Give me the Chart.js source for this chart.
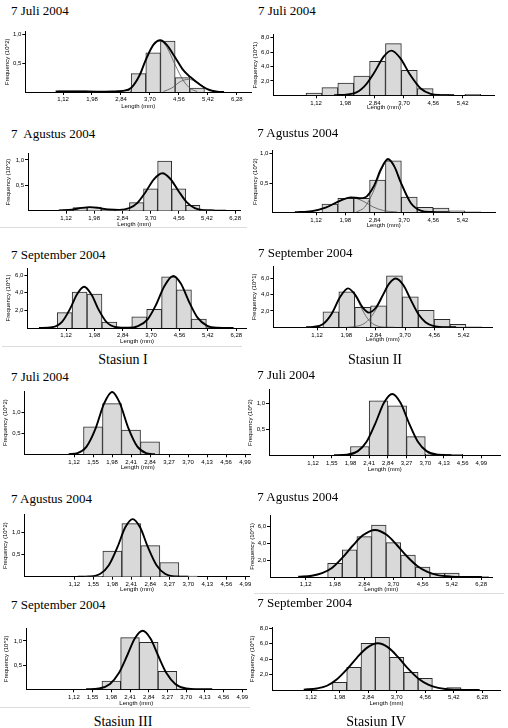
<!DOCTYPE html>
<html><head><meta charset="utf-8">
<script src="https://cdn.jsdelivr.net/npm/chart.js@4.4.1/dist/chart.umd.min.js"></script>
<style>
html,body{margin:0;padding:0;background:#fff;}
#fig{position:relative;width:508px;height:728px;overflow:hidden;background:#fff;}
.t{position:absolute;font-family:"Liberation Serif","Times New Roman",serif;font-size:13px;line-height:13px;color:#000;white-space:pre;}
.s{position:absolute;font-family:"Liberation Serif","Times New Roman",serif;font-size:14px;line-height:14px;color:#000;white-space:pre;transform:translateX(-50%);}
.sep{position:absolute;height:1px;background:#dcdcdc;}
canvas{position:absolute;}
</style></head><body><div id="fig"></div>
<script>
// ---------- tick labels ----------
const xTicksWide = [1.12, 1.98, 2.84, 3.70, 4.56, 5.42, 6.28];
const xTicksShort = [1.12, 1.98, 2.84, 3.70, 4.56, 5.42];
const xTicksNarrow = [1.12, 1.55, 1.98, 2.41, 2.84, 3.27, 3.70, 4.13, 4.56, 4.99];
const yTicksUnit = [0.5, 1.0];
const yTicks8 = [2, 4, 6, 8];
const yTicks6 = [2, 4, 6];
const xTitle = 'Length (mm)';
const yTitle2 = 'Frequency (10^2)';
const yTitle1 = 'Frequency (10^1)';
const panelTitles = ['7 Juli 2004', '7 Juli 2004', '7  Agustus 2004', '7 Agustus 2004',
  '7 September 2004', '7 September 2004', '7 Juli 2004', '7 Juli 2004',
  '7 Agustus 2004', '7 Agustus 2004', '7 September 2004', '7 September 2004'];
const stationLabels = ['Stasiun I', 'Stasiun II', 'Stasiun III', 'Stasiun IV'];

// ---------- Stasiun I, Juli ----------
const s1JulLen  = [1.185, 1.62, 2.055, 2.49, 2.925, 3.36, 3.795, 4.23, 4.665, 5.10];
const s1JulFreq = [0.02, 0.02, 0.01, 0.01, 0.02, 0.32, 0.68, 0.885, 0.25, 0.07];
const s1JulFitX = [0.9, 1.5, 2.2, 2.6, 2.9, 3.14, 3.4, 3.57, 3.8, 4.01, 4.2, 4.45, 4.69, 4.9, 5.18, 5.4, 5.7, 5.9];
const s1JulFitY = [0.01, 0.01, 0.005, 0.01, 0.02, 0.07, 0.3, 0.55, 0.82, 0.9, 0.82, 0.6, 0.38, 0.26, 0.13, 0.05, 0.005, 0];
const s1JulC1X = [2.9, 3.14, 3.4, 3.57, 3.8, 4.01, 4.2, 4.45, 4.69, 4.9, 5.1];
const s1JulC1Y = [0.02, 0.07, 0.3, 0.55, 0.81, 0.89, 0.78, 0.47, 0.2, 0.06, 0.01];
const s1JulC2X = [4.1, 4.35, 4.6, 4.85, 5.1, 5.35, 5.6];
const s1JulC2Y = [0.01, 0.07, 0.18, 0.22, 0.17, 0.07, 0.01];

// ---------- Stasiun II, Juli ----------
const s2JulLen  = [1.06, 1.526, 1.992, 2.458, 2.924, 3.39, 3.856, 4.322, 4.788, 5.254, 5.72];
const s2JulFreq = [0.32, 1.06, 1.71, 2.68, 4.72, 7.18, 3.47, 0.93, 0.15, 0, 0.15];
const s2JulFitX = [1.65, 2.23, 2.53, 2.82, 3.11, 3.33, 3.6, 3.86, 4.19, 4.48, 4.78, 5.17];
const s2JulFitY = [0, 0.27, 1.2, 3.1, 5.4, 6.2, 5.1, 3.0, 0.95, 0.2, 0.03, 0];

// ---------- Stasiun I, Agustus ----------
const s1AugLen  = [1.12, 1.55, 1.98, 2.41, 2.84, 3.27, 3.70, 4.13, 4.56, 4.99, 5.42];
const s1AugFreq = [0.01, 0.06, 0.07, 0.03, 0.01, 0.16, 0.43, 0.98, 0.43, 0.105, 0.02];
const s1AugFitX = [0.9, 1.3, 1.6, 1.85, 2.1, 2.4, 2.75, 3.05, 3.3, 3.55, 3.8, 4.06, 4.3, 4.55, 4.8, 5.05, 5.3, 5.6, 6.0];
const s1AugFitY = [0.005, 0.02, 0.055, 0.07, 0.056, 0.025, 0.016, 0.05, 0.155, 0.37, 0.62, 0.74, 0.63, 0.39, 0.17, 0.05, 0.012, 0.002, 0];

// ---------- Stasiun II, Agustus ----------
const s2AugLen  = [1.526, 1.992, 2.458, 2.924, 3.39, 3.856, 4.322, 4.788, 5.254, 5.72];
const s2AugFreq = [0.14, 0.24, 0.24, 0.55, 0.88, 0.26, 0.085, 0.07, 0.025, 0.01];
const s2AugFitX = [0.5, 1.0, 1.4, 1.8, 2.14, 2.4, 2.55, 2.82, 3.02, 3.23, 3.42, 3.6, 3.9, 4.19, 4.5, 5.0];
const s2AugFitY = [0, 0.02, 0.08, 0.19, 0.255, 0.24, 0.25, 0.45, 0.73, 0.91, 0.78, 0.52, 0.16, 0.03, 0.005, 0];
const s2AugC1X = [0.6, 1.0, 1.4, 1.8, 2.14, 2.5, 2.8, 3.1, 3.5];
const s2AugC1Y = [0, 0.02, 0.08, 0.19, 0.255, 0.19, 0.09, 0.03, 0.005];
const s2AugC2X = [2.3, 2.55, 2.82, 3.02, 3.23, 3.42, 3.6, 3.9, 4.19, 4.5];
const s2AugC2Y = [0.005, 0.09, 0.38, 0.7, 0.89, 0.77, 0.51, 0.15, 0.03, 0];

// ---------- Stasiun I, September ----------
const s1SepLen  = [1.08, 1.532, 1.984, 2.436, 2.888, 3.34, 3.792, 4.244, 4.696, 5.148, 5.6];
const s1SepFreq = [1.74, 4.08, 3.85, 0.68, 0, 1.28, 2.11, 5.81, 4.34, 1.02, 0.05];
const s1SepFitX = [0.3, 0.7, 1.0, 1.25, 1.45, 1.67, 1.9, 2.1, 2.35, 2.65, 3.0, 3.3, 3.6, 3.85, 4.1, 4.37, 4.6, 4.85, 5.1, 5.4, 5.7, 6.2];
const s1SepFitY = [0, 0.09, 0.7, 2.22, 3.81, 4.68, 3.74, 2.14, 0.67, 0.08, 0.02, 0.2, 1.01, 2.64, 4.74, 5.89, 5.03, 2.97, 1.21, 0.25, 0.03, 0];

// ---------- Stasiun II, September ----------
const s2SepLen  = [1.526, 1.992, 2.458, 2.924, 3.39, 3.856, 4.322, 4.788, 5.254, 5.72];
const s2SepFreq = [1.9, 4.33, 2.43, 2.63, 6.28, 3.72, 2.06, 0.97, 0.36, 0.05];
const s2SepFitX = [0.8, 1.0, 1.3, 1.55, 1.8, 2.03, 2.25, 2.45, 2.64, 2.85, 3.05, 3.23, 3.43, 3.65, 3.87, 4.1, 4.3, 4.55, 4.8, 5.2];
const s2SepFitY = [0, 0.04, 0.41, 1.65, 3.72, 4.75, 3.9, 2.45, 1.79, 2.41, 3.92, 5.29, 5.95, 5.15, 3.34, 1.56, 0.63, 0.14, 0.02, 0];
const s2SepC1X = [0.8, 1.0, 1.3, 1.55, 1.8, 2.03, 2.25, 2.45, 2.64, 2.85, 3.1, 3.4];
const s2SepC1Y = [0, 0.04, 0.41, 1.65, 3.72, 4.74, 3.8, 2.11, 0.86, 0.22, 0.02, 0];
const s2SepC2X = [2.0, 2.2, 2.45, 2.64, 2.85, 3.05, 3.23, 3.43, 3.65, 3.87, 4.1, 4.3, 4.55, 4.8, 5.1];
const s2SepC2Y = [0, 0.07, 0.34, 0.93, 2.19, 3.87, 5.28, 5.95, 5.15, 3.34, 1.56, 0.63, 0.14, 0.02, 0];

// ---------- Stasiun III, Juli ----------
const s3JulLen  = [1.55, 1.98, 2.41, 2.84];
const s3JulFreq = [0.66, 1.22, 0.58, 0.30];
const s3JulFitX = [1.0, 1.2, 1.4, 1.6, 1.8, 1.98, 2.15, 2.35, 2.55, 2.75, 2.95];
const s3JulFitY = [0.003, 0.03, 0.18, 0.6, 1.22, 1.5, 1.25, 0.63, 0.19, 0.03, 0];

// ---------- Stasiun IV, Juli ----------
const s4JulLen  = [2.195, 2.625, 3.055, 3.485, 3.915, 4.345];
const s4JulFreq = [0.17, 1.05, 0.95, 0.36, 0.025, 0.02];
const s4JulFitX = [1.6, 1.9, 2.15, 2.35, 2.55, 2.75, 2.94, 3.13, 3.33, 3.53, 3.73, 3.98, 4.3];
const s4JulFitY = [0, 0.01, 0.08, 0.26, 0.61, 1.01, 1.18, 1.01, 0.61, 0.26, 0.08, 0.01, 0];

// ---------- Stasiun III, Agustus ----------
const s3AugLen  = [1.55, 1.98, 2.41, 2.84, 3.27, 3.70];
const s3AugFreq = [0.01, 0.58, 1.2, 0.70, 0.32, 0.015];
const s3AugFitX = [1.2, 1.45, 1.7, 1.9, 2.1, 2.27, 2.44, 2.61, 2.78, 2.98, 3.18, 3.43, 3.7];
const s3AugFitY = [0, 0.006, 0.06, 0.26, 0.68, 1.11, 1.3, 1.11, 0.68, 0.26, 0.06, 0.006, 0];

// ---------- Stasiun IV, Agustus ----------
const s4AugLen  = [1.98, 2.41, 2.84, 3.27, 3.70, 4.13, 4.56, 4.99, 5.42, 5.85, 6.28];
const s4AugFreq = [1.63, 3.25, 4.8, 6.19, 4.09, 2.62, 1.19, 0.48, 0.48, 0, 0.05];
const s4AugFitX = [0.9, 1.3, 1.6, 1.9, 2.2, 2.5, 2.8, 3.16, 3.5, 3.8, 4.1, 4.4, 4.7, 5.0, 5.4, 5.8, 6.3];
const s4AugFitY = [0.03, 0.15, 0.45, 1.1, 2.3, 3.72, 4.96, 5.6, 5.02, 3.81, 2.44, 1.32, 0.61, 0.23, 0.05, 0.01, 0];

// ---------- Stasiun III, September ----------
const s3SepLen  = [1.98, 2.41, 2.84, 3.27, 3.70];
const s3SepFreq = [0.17, 1.07, 0.97, 0.37, 0.01];
const s3SepFitX = [1.4, 1.7, 1.95, 2.15, 2.35, 2.52, 2.70, 2.88, 3.05, 3.25, 3.45, 3.7, 4.0, 4.3];
const s3SepFitY = [0.001, 0.016, 0.11, 0.33, 0.71, 1.05, 1.21, 1.05, 0.71, 0.33, 0.11, 0.016, 0.001, 0];

// ---------- Stasiun IV, September ----------
const s4SepLen  = [1.98, 2.41, 2.84, 3.27, 3.70, 4.13, 4.56, 4.99, 5.42];
const s4SepFreq = [1.0, 2.94, 6.06, 6.84, 4.24, 2.29, 1.52, 0, 0.3];
const s4SepFitX = [0.9, 1.3, 1.6, 1.9, 2.2, 2.5, 2.8, 3.13, 3.45, 3.75, 4.05, 4.35, 4.65, 4.95, 5.3, 5.7, 6.2];
const s4SepFitY = [0.05, 0.2, 0.55, 1.4, 2.69, 4.18, 5.47, 6.06, 5.5, 4.23, 2.74, 1.5, 0.69, 0.27, 0.07, 0.02, 0];

// ---------- layout (pixel positions of each plot frame) ----------
const panels = [
  {ti:0, tx:11, tb:15, len:s1JulLen, freq:s1JulFreq, fit:[s1JulFitX, s1JulFitY], comps:[[s1JulC1X, s1JulC1Y],[s1JulC2X, s1JulC2Y]],
   xmin:0, xmax:6.7, x0:25.3, x1:251, ymax:1.05, y0:31.6, y1:92, xt:xTicksWide, yt:yTicksUnit, yd:1, ytl:yTitle2, ytx:7.3, xty:106},
  {ti:1, tx:258, tb:15, len:s2JulLen, freq:s2JulFreq, fit:[s2JulFitX, s2JulFitY], comps:[],
   xmin:-0.13, xmax:6.36, x0:273.4, x1:494.7, ymax:8.4, y0:34.8, y1:95.3, xt:xTicksShort, yt:yTicks8, yd:1, ytl:yTitle1, ytx:255.5, xty:107},
  {ti:2, tx:11, tb:138.3, len:s1AugLen, freq:s1AugFreq, fit:[s1AugFitX, s1AugFitY], comps:[],
   xmin:-0.04, xmax:6.45, x0:28, x1:240.7, ymax:1.13, y0:153.4, y1:210.7, xt:xTicksWide, yt:yTicksUnit, yd:1, ytl:yTitle2, ytx:9, xty:224},
  {ti:3, tx:257.3, tb:136.7, len:s2AugLen, freq:s2AugFreq, fit:[s2AugFitX, s2AugFitY], comps:[[s2AugC1X, s2AugC1Y],[s2AugC2X, s2AugC2Y]],
   xmin:-0.16, xmax:6.37, x0:272.4, x1:495, ymax:1.05, y0:150.8, y1:212.3, xt:xTicksShort, yt:yTicksUnit, yd:1, ytl:yTitle2, ytx:255.5, xty:225},
  {ti:4, tx:11, tb:259.3, len:s1SepLen, freq:s1SepFreq, fit:[s1SepFitX, s1SepFitY], comps:[],
   xmin:-0.05, xmax:6.6, x0:27.4, x1:246.8, ymax:6.8, y0:268, y1:328, xt:xTicksWide, yt:yTicks6, yd:1, ytl:yTitle1, ytx:9, xty:340.7},
  {ti:5, tx:258, tb:257.3, len:s2SepLen, freq:s2SepFreq, fit:[s2SepFitX, s2SepFitY], comps:[[s2SepC1X, s2SepC1Y],[s2SepC2X, s2SepC2Y]],
   xmin:-0.16, xmax:6.26, x0:273.4, x1:492.3, ymax:7.4, y0:266.6, y1:327.3, xt:xTicksShort, yt:yTicks6, yd:1, ytl:yTitle1, ytx:255, xty:339.3},
  {ti:6, tx:11, tb:380.7, len:s3JulLen, freq:s3JulFreq, fit:[s3JulFitX, s3JulFitY], comps:[],
   xmin:0, xmax:5.12, x0:24.5, x1:250.8, ymax:1.52, y0:391.1, y1:454.3, xt:xTicksNarrow, yt:yTicksUnit, yd:1, ytl:yTitle2, ytx:6, xty:467.3},
  {ti:7, tx:257.3, tb:379.3, len:s4JulLen, freq:s4JulFreq, fit:[s4JulFitX, s4JulFitY], comps:[],
   xmin:0.106, xmax:5.43, x0:269, x1:500.5, ymax:1.26, y0:389.8, y1:455.3, xt:xTicksNarrow, yt:yTicksUnit, yd:1, ytl:yTitle2, ytx:251, xty:468.7},
  {ti:8, tx:11, tb:503.3, len:s3AugLen, freq:s3AugFreq, fit:[s3AugFitX, s3AugFitY], comps:[],
   xmin:-0.01, xmax:5.09, x0:24.4, x1:249.8, ymax:1.4, y0:514.7, y1:576.7, xt:xTicksNarrow, yt:yTicksUnit, yd:1, ytl:yTitle2, ytx:6, xty:589},
  {ti:9, tx:257.3, tb:501, len:s4AugLen, freq:s4AugFreq, fit:[s4AugFitX, s4AugFitY], comps:[],
   xmin:0.07, xmax:6.61, x0:270, x1:492.4, ymax:7.3, y0:515.7, y1:577, xt:xTicksWide, yt:yTicks6, yd:1, ytl:yTitle1, ytx:253, xty:589.3},
  {ti:10, tx:11, tb:609.3, len:s3SepLen, freq:s3SepFreq, fit:[s3SepFitX, s3SepFitY], comps:[],
   xmin:0.02, xmax:5.09, x0:26.05, x1:246.6, ymax:1.26, y0:628.4, y1:689.3, xt:xTicksNarrow, yt:yTicksUnit, yd:1, ytl:yTitle2, ytx:6.7, xty:703.3},
  {ti:11, tx:257.3, tb:607.3, len:s4SepLen, freq:s4SepFreq, fit:[s4SepFitX, s4SepFitY], comps:[],
   xmin:-0.05, xmax:6.83, x0:272.2, x1:500.6, ymax:8.1, y0:627.6, y1:690, xt:xTicksWide, yt:yTicks8, yd:1, ytl:yTitle1, ytx:252.7, xty:703.3}
];
const stationPos = [{x:123, b:365}, {x:375, b:365}, {x:123, b:727}, {x:376, b:727}];
const separators = [{x:0, y:227, w:247}, {x:2, y:346, w:240}, {x:254, y:593, w:250}, {x:0, y:707, w:250}];

const fig = document.getElementById('fig');
const comma = (v, d) => v.toFixed(d).replace('.', ',');
const pts = (xs, ys) => xs.map((x, i) => ({x: x, y: ys[i]}));
const TICKFONT = {family: '"Liberation Sans", Arial, sans-serif', size: 6};

separators.forEach(s => {
  const d = document.createElement('div');
  d.className = 'sep';
  d.style.left = s.x + 'px'; d.style.top = s.y + 'px'; d.style.width = s.w + 'px';
  fig.appendChild(d);
});

panels.forEach(p => {
  const t = document.createElement('div');
  t.className = 't';
  t.textContent = panelTitles[p.ti];
  t.style.left = p.tx + 'px';
  t.style.top = (p.tb - 10.9) + 'px';
  fig.appendChild(t);

  const lh2 = 3.6;
  const cl = Math.round(p.ytx - lh2);
  const L = p.x0 - cl;
  const ct = Math.floor(p.y0 - 7);
  const T = p.y0 - ct;
  const Bwant = p.xty + lh2 - p.y1;
  const W = Math.ceil(p.x1 + 12 - cl);
  const R = cl + W - p.x1;
  const H = Math.ceil(p.y1 + Bwant - ct);
  const B = ct + H - p.y1;

  const c = document.createElement('canvas');
  c.width = W; c.height = H;
  c.style.left = cl + 'px'; c.style.top = ct + 'px';
  c.style.width = W + 'px'; c.style.height = H + 'px';
  fig.appendChild(c);

  const datasets = [];
  datasets.push({type: 'line', data: pts(p.fit[0], p.fit[1]), borderColor: '#000', borderWidth: 1.9,
    pointRadius: 0, fill: false, cubicInterpolationMode: 'monotone', order: 0});
  p.comps.forEach(cp => datasets.push({type: 'line', data: pts(cp[0], cp[1]), borderColor: '#555', borderWidth: 0.8,
    pointRadius: 0, fill: false, cubicInterpolationMode: 'monotone', order: 1}));
  datasets.push({type: 'bar', data: pts(p.len, p.freq), backgroundColor: '#d9d9d9', borderColor: '#2a2a2a',
    borderWidth: 1, barPercentage: 1, categoryPercentage: 1, order: 5});

  new Chart(c, {
    type: 'bar',
    data: {datasets},
    options: {
      responsive: false, animation: false, devicePixelRatio: 1,
      layout: {padding: {left: 0, top: T, right: R, bottom: 0}},
      plugins: {legend: {display: false}, tooltip: {enabled: false}},
      scales: {
        x: {
          type: 'linear', min: p.xmin, max: p.xmax, offset: false,
          afterBuildTicks: s => { s.ticks = p.xt.map(v => ({value: v})); },
          afterFit: s => { s.height = B; s.paddingLeft = 0; s.paddingRight = 0; },
          ticks: {font: TICKFONT, color: '#000', padding: 1, maxRotation: 0, autoSkip: false,
            callback: v => comma(v, 2)},
          grid: {drawOnChartArea: false, drawTicks: true, tickLength: 3, color: '#000', offset: false},
          border: {display: true, color: '#000', width: 1},
          title: {display: true, text: xTitle, font: TICKFONT, color: '#000', padding: 0}
        },
        y: {
          type: 'linear', min: 0, max: p.ymax,
          afterBuildTicks: s => { s.ticks = p.yt.map(v => ({value: v})); },
          afterFit: s => { s.width = L; s.paddingTop = 0; s.paddingBottom = 0; },
          ticks: {font: TICKFONT, color: '#000', padding: 1, callback: v => comma(v, p.yd)},
          grid: {drawOnChartArea: false, drawTicks: true, tickLength: 3, color: '#000'},
          border: {display: true, color: '#000', width: 1},
          title: {display: true, text: p.ytl, font: TICKFONT, color: '#000', padding: 0}
        }
      }
    }
  });
});

stationLabels.forEach((s, i) => {
  const d = document.createElement('div');
  d.className = 's';
  d.textContent = s;
  d.style.left = stationPos[i].x + 'px';
  d.style.top = (stationPos[i].b - 11.7) + 'px';
  fig.appendChild(d);
});
</script></body></html>
